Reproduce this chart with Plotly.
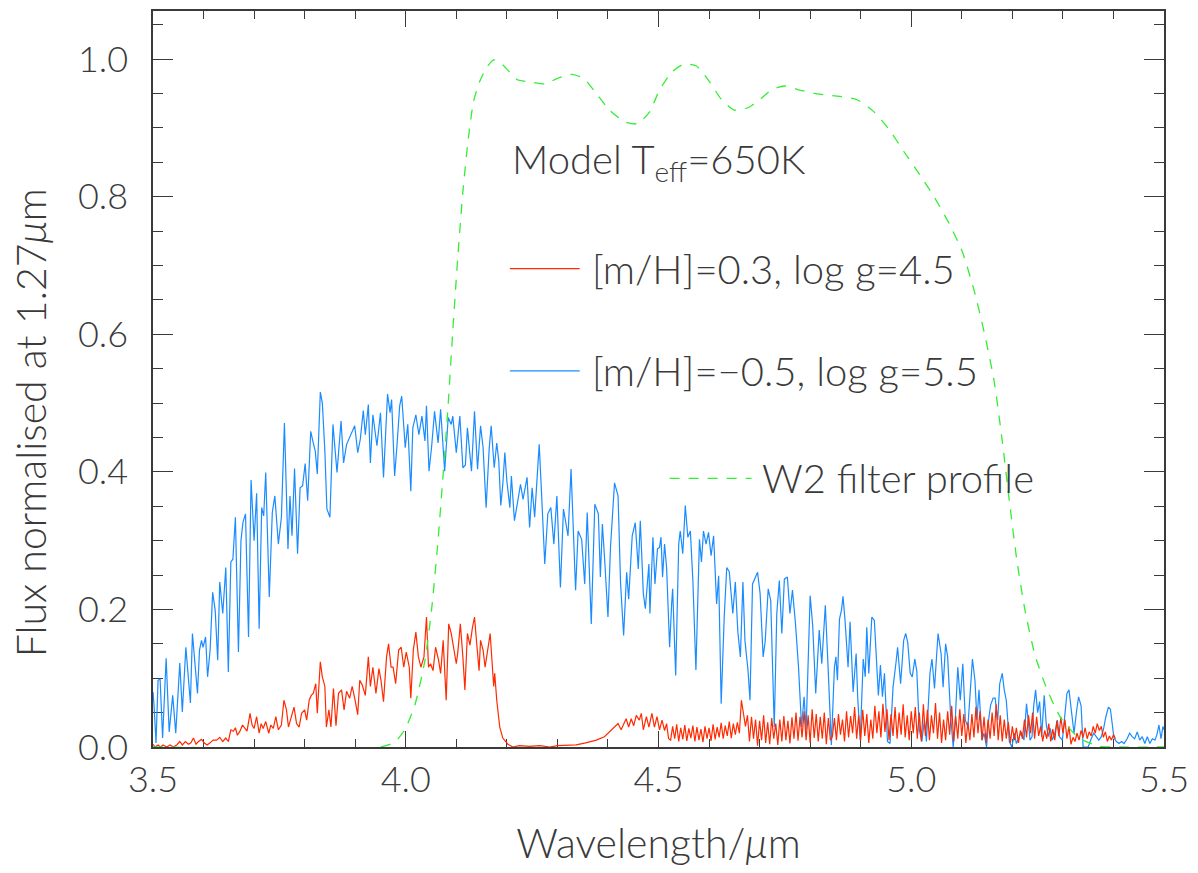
import numpy as np
import plotly.graph_objects as go

# ---- Model spectrum, [m/H]=-0.5, log g=5.5 (blue) ----
blue_wavelength = [
    3.500, 3.502, 3.506, 3.510, 3.514, 3.519, 3.526, 3.532, 3.539, 3.545,
    3.553, 3.558, 3.565, 3.570, 3.574, 3.578, 3.588, 3.592, 3.596, 3.599,
    3.604, 3.608, 3.613, 3.618, 3.623, 3.628, 3.632, 3.638, 3.644, 3.649,
    3.654, 3.658, 3.663, 3.669, 3.674, 3.678, 3.683, 3.689, 3.694, 3.700,
    3.705, 3.710, 3.715, 3.719, 3.723, 3.730, 3.736, 3.741, 3.748, 3.754,
    3.760, 3.767, 3.771, 3.775, 3.780, 3.786, 3.791, 3.796, 3.801, 3.806,
    3.812, 3.817, 3.821, 3.825, 3.831, 3.835, 3.840, 3.844, 3.850, 3.856,
    3.864, 3.872, 3.877, 3.883, 3.891, 3.899, 3.905, 3.910, 3.916, 3.920,
    3.926, 3.930, 3.935, 3.943, 3.950, 3.956, 3.964, 3.969, 3.972, 3.978,
    3.983, 3.988, 3.992, 3.999, 4.004, 4.010, 4.014, 4.020, 4.026, 4.032,
    4.038, 4.041, 4.046, 4.051, 4.057, 4.064, 4.069, 4.077, 4.084, 4.090,
    4.093, 4.100, 4.107, 4.113, 4.118, 4.122, 4.130, 4.136, 4.142, 4.148,
    4.153, 4.159, 4.165, 4.169, 4.175, 4.180, 4.184, 4.188, 4.192, 4.196,
    4.200, 4.206, 4.209, 4.215, 4.221, 4.227, 4.232, 4.240, 4.245, 4.250,
    4.255, 4.264, 4.269, 4.275, 4.281, 4.287, 4.293, 4.299, 4.306, 4.312,
    4.321, 4.327, 4.336, 4.341, 4.348, 4.354, 4.359, 4.367, 4.374, 4.381,
    4.385, 4.389, 4.394, 4.400, 4.405, 4.413, 4.420, 4.425, 4.431, 4.437,
    4.441, 4.448, 4.454, 4.460, 4.464, 4.470, 4.474, 4.481, 4.483, 4.489,
    4.493, 4.498, 4.502, 4.505, 4.508, 4.512, 4.516, 4.522, 4.526, 4.528,
    4.534, 4.540, 4.543, 4.548, 4.553, 4.558, 4.563, 4.568, 4.574, 4.581,
    4.585, 4.589, 4.594, 4.599, 4.604, 4.609, 4.615, 4.619, 4.624, 4.630,
    4.635, 4.640, 4.647, 4.652, 4.657, 4.662, 4.667, 4.671, 4.677, 4.681,
    4.686, 4.691, 4.696, 4.701, 4.707, 4.711, 4.717, 4.722, 4.729, 4.734,
    4.739, 4.744, 4.749, 4.755, 4.760, 4.765, 4.771, 4.777, 4.783, 4.788,
    4.792, 4.800, 4.805, 4.811, 4.818, 4.823, 4.830, 4.836, 4.842, 4.848,
    4.851, 4.854, 4.858, 4.862, 4.865, 4.869, 4.875, 4.879, 4.885, 4.891,
    4.894, 4.899, 4.905, 4.909, 4.912, 4.916, 4.922, 4.927, 4.935, 4.939,
    4.943, 4.947, 4.953, 4.958, 4.964, 4.970, 4.973, 4.979, 4.985, 4.989,
    4.993, 4.998, 5.002, 5.007, 5.011, 5.016, 5.021, 5.026, 5.030, 5.037,
    5.041, 5.046, 5.053, 5.059, 5.063, 5.068, 5.072, 5.078, 5.083, 5.087,
    5.092, 5.097, 5.102, 5.107, 5.112, 5.117, 5.121, 5.126, 5.130, 5.134,
    5.140, 5.144, 5.149, 5.153, 5.157, 5.162, 5.166, 5.171, 5.175, 5.180,
    5.184, 5.188, 5.194, 5.199, 5.204, 5.208, 5.213, 5.218, 5.223, 5.228,
    5.232, 5.235, 5.239, 5.242, 5.246, 5.250, 5.254, 5.258, 5.263, 5.267,
    5.271, 5.275, 5.279, 5.284, 5.289, 5.293, 5.299, 5.304, 5.308, 5.312,
    5.317, 5.322, 5.327, 5.331, 5.336, 5.340, 5.345, 5.350, 5.356, 5.361,
    5.366, 5.371, 5.376, 5.380, 5.385, 5.390, 5.394, 5.398, 5.401, 5.406,
    5.411, 5.416, 5.421, 5.427, 5.432, 5.437, 5.442, 5.447, 5.452, 5.457,
    5.462, 5.467, 5.472, 5.477, 5.482, 5.486, 5.490, 5.494, 5.498, 5.500,
]
blue_flux = [
    0.080, 0.061, 0.006, 0.097, 0.099, 0.013, 0.129, 0.022, 0.075, 0.020,
    0.122, 0.051, 0.145, 0.093, 0.064, 0.165, 0.078, 0.141, 0.155, 0.145,
    0.160, 0.102, 0.141, 0.225, 0.199, 0.126, 0.240, 0.194, 0.261, 0.109,
    0.269, 0.273, 0.334, 0.138, 0.300, 0.327, 0.339, 0.160, 0.388, 0.300,
    0.369, 0.172, 0.348, 0.336, 0.399, 0.218, 0.341, 0.365, 0.295, 0.334,
    0.471, 0.288, 0.365, 0.307, 0.405, 0.281, 0.377, 0.380, 0.412, 0.358,
    0.459, 0.442, 0.430, 0.397, 0.516, 0.500, 0.430, 0.346, 0.334, 0.469,
    0.399, 0.474, 0.413, 0.440, 0.454, 0.467, 0.428, 0.447, 0.489, 0.454,
    0.498, 0.413, 0.483, 0.438, 0.486, 0.392, 0.513, 0.486, 0.505, 0.394,
    0.442, 0.496, 0.510, 0.435, 0.469, 0.372, 0.464, 0.483, 0.454, 0.481,
    0.445, 0.496, 0.401, 0.435, 0.488, 0.442, 0.491, 0.401, 0.479, 0.469,
    0.481, 0.428, 0.481, 0.406, 0.410, 0.464, 0.401, 0.488, 0.404, 0.467,
    0.435, 0.348, 0.433, 0.467, 0.406, 0.442, 0.416, 0.351, 0.382, 0.428,
    0.387, 0.348, 0.394, 0.329, 0.355, 0.382, 0.360, 0.392, 0.319, 0.377,
    0.334, 0.440, 0.363, 0.266, 0.339, 0.348, 0.295, 0.365, 0.232, 0.346,
    0.307, 0.404, 0.228, 0.314, 0.302, 0.237, 0.341, 0.179, 0.353, 0.339,
    0.247, 0.324, 0.266, 0.189, 0.290, 0.384, 0.365, 0.237, 0.162, 0.254,
    0.215, 0.307, 0.326, 0.259, 0.329, 0.223, 0.201, 0.266, 0.194, 0.305,
    0.237, 0.288, 0.290, 0.305, 0.247, 0.295, 0.261, 0.145, 0.208, 0.230,
    0.104, 0.295, 0.314, 0.281, 0.351, 0.305, 0.314, 0.242, 0.112, 0.302,
    0.269, 0.314, 0.295, 0.312, 0.278, 0.307, 0.208, 0.249, 0.063, 0.189,
    0.261, 0.255, 0.194, 0.240, 0.167, 0.131, 0.240, 0.155, 0.112, 0.068,
    0.237, 0.247, 0.254, 0.223, 0.131, 0.153, 0.230, 0.213, 0.029, 0.194,
    0.242, 0.165, 0.244, 0.247, 0.194, 0.228, 0.179, 0.116, 0.029, 0.073,
    0.025, 0.220, 0.177, 0.078, 0.170, 0.121, 0.206, 0.107, 0.003, 0.116,
    0.131, 0.097, 0.186, 0.199, 0.219, 0.184, 0.116, 0.182, 0.080, 0.136,
    0.073, 0.010, 0.128, 0.102, 0.174, 0.107, 0.189, 0.184, 0.075, 0.119,
    0.073, 0.107, 0.008, 0.005, 0.087, 0.124, 0.145, 0.092, 0.155, 0.165,
    0.152, 0.107, 0.102, 0.128, 0.110, 0.025, 0.008, 0.039, 0.008, 0.107,
    0.128, 0.085, 0.165, 0.136, 0.087, 0.150, 0.131, 0.044, 0.000, 0.039,
    0.116, 0.068, 0.121, 0.039, 0.029, 0.083, 0.128, 0.097, 0.039, 0.083,
    0.010, 0.020, 0.000, 0.039, 0.061, 0.071, 0.071, 0.039, 0.092, 0.107,
    0.083, 0.068, 0.008, 0.000, 0.020, 0.005, 0.015, 0.022, 0.010, 0.063,
    0.034, 0.010, 0.015, 0.058, 0.083, 0.050, 0.066, 0.015, 0.075, 0.034,
    0.015, 0.027, 0.010, 0.020, 0.039, 0.015, 0.010, 0.054, 0.078, 0.083,
    0.054, 0.020, 0.052, 0.073, 0.060, 0.000, 0.000, 0.000, 0.012, 0.020,
    0.015, 0.010, 0.015, 0.025, 0.044, 0.058, 0.055, 0.030, 0.013, 0.008,
    0.005, 0.008, 0.005, 0.012, 0.020, 0.015, 0.012, 0.022, 0.010, 0.015,
    0.005, 0.015, 0.005, 0.012, 0.010, 0.018, 0.032, 0.012, 0.030, 0.025,
]

# ---- Model spectrum, [m/H]=0.3, log g=4.5 (red), short-wavelength part ----
red_wavelength = [
    3.500, 3.504, 3.510, 3.515, 3.520, 3.527, 3.534, 3.540, 3.547, 3.553,
    3.558, 3.564, 3.570, 3.575, 3.580, 3.585, 3.590, 3.596, 3.601, 3.607,
    3.613, 3.619, 3.626, 3.632, 3.638, 3.644, 3.649, 3.654, 3.659, 3.663,
    3.667, 3.672, 3.677, 3.682, 3.686, 3.692, 3.696, 3.700, 3.705, 3.710,
    3.714, 3.718, 3.723, 3.729, 3.733, 3.738, 3.743, 3.748, 3.754, 3.759,
    3.764, 3.768, 3.773, 3.779, 3.784, 3.789, 3.794, 3.800, 3.804, 3.809,
    3.813, 3.817, 3.822, 3.825, 3.831, 3.835, 3.840, 3.843, 3.848, 3.852,
    3.857, 3.862, 3.867, 3.873, 3.878, 3.883, 3.889, 3.894, 3.899, 3.905,
    3.909, 3.914, 3.920, 3.926, 3.930, 3.935, 3.941, 3.947, 3.951, 3.956,
    3.962, 3.966, 3.971, 3.975, 3.980, 3.986, 3.991, 3.996, 4.001, 4.007,
    4.010, 4.015, 4.020, 4.025, 4.030, 4.036, 4.041, 4.045, 4.049, 4.054,
    4.059, 4.065, 4.069, 4.074, 4.080, 4.085, 4.090, 4.095, 4.100, 4.103,
    4.108, 4.113, 4.117, 4.122, 4.127, 4.132, 4.136, 4.141, 4.145, 4.148,
    4.153, 4.157, 4.162, 4.167, 4.171, 4.174, 4.176, 4.180, 4.186, 4.192,
    4.202, 4.212, 4.225, 4.245, 4.265, 4.285, 4.300, 4.317, 4.337, 4.356,
    4.377, 4.393, 4.410, 4.420, 4.426, 4.436, 4.441, 4.446, 4.451, 4.456,
    4.462, 4.466, 4.470, 4.476, 4.481, 4.487, 4.492, 4.497, 4.502, 4.507,
    4.512, 4.516, 4.520,
]
red_flux = [
    0.004, 0.000, 0.003, 0.000, 0.003, 0.000, 0.003, 0.000, 0.003, 0.008,
    0.003, 0.008, 0.004, 0.006, 0.013, 0.004, 0.008, 0.011, 0.006, 0.003,
    0.006, 0.010, 0.010, 0.014, 0.008, 0.013, 0.008, 0.025, 0.023, 0.028,
    0.017, 0.023, 0.032, 0.027, 0.023, 0.049, 0.032, 0.027, 0.044, 0.020,
    0.034, 0.027, 0.037, 0.020, 0.032, 0.027, 0.044, 0.025, 0.032, 0.068,
    0.054, 0.029, 0.041, 0.058, 0.034, 0.029, 0.049, 0.054, 0.039, 0.068,
    0.075, 0.078, 0.092, 0.049, 0.124, 0.102, 0.088, 0.029, 0.054, 0.029,
    0.085, 0.031, 0.078, 0.083, 0.054, 0.081, 0.071, 0.088, 0.071, 0.047,
    0.097, 0.090, 0.075, 0.131, 0.088, 0.116, 0.078, 0.114, 0.097, 0.066,
    0.131, 0.150, 0.116, 0.116, 0.092, 0.141, 0.145, 0.116, 0.138, 0.116,
    0.071, 0.141, 0.167, 0.131, 0.116, 0.131, 0.189, 0.116, 0.121, 0.111,
    0.145, 0.126, 0.107, 0.155, 0.068, 0.179, 0.165, 0.145, 0.121, 0.138,
    0.179, 0.131, 0.083, 0.165, 0.148, 0.174, 0.189, 0.145, 0.111, 0.155,
    0.141, 0.116, 0.138, 0.165, 0.121, 0.088, 0.107, 0.068, 0.029, 0.013,
    0.004, 0.000, 0.002, 0.001, 0.002, 0.000, 0.002, 0.002, 0.003, 0.006,
    0.010, 0.015, 0.027, 0.034, 0.025, 0.041, 0.029, 0.041, 0.031, 0.046,
    0.039, 0.049, 0.025, 0.044, 0.029, 0.049, 0.029, 0.044, 0.025, 0.039,
    0.024, 0.034, 0.012,
]

# Red spectrum, long-wavelength part: regularly sampled from 4.524 um
red_tail_start = 4.524
red_tail_step = 0.004
red_tail_flux = [
    0.010, 0.030, 0.012, 0.033, 0.008, 0.028, 0.011, 0.032, 0.009, 0.027,
    0.013, 0.031, 0.008, 0.029, 0.010, 0.026, 0.007, 0.030, 0.012, 0.028,
    0.009, 0.033, 0.011, 0.029, 0.014, 0.035, 0.012, 0.031, 0.016, 0.037,
    0.013, 0.034, 0.018, 0.036, 0.020, 0.068, 0.050, 0.030, 0.046, 0.008,
    0.044, 0.012, 0.040, 0.002, 0.038, 0.010, 0.046, 0.006, 0.036, 0.004,
    0.042, 0.012, 0.034, 0.003, 0.040, 0.008, 0.045, 0.010, 0.038, 0.005,
    0.043, 0.012, 0.050, 0.009, 0.044, 0.014, 0.052, 0.010, 0.046, 0.006,
    0.055, 0.013, 0.048, 0.008, 0.044, 0.012, 0.050, 0.004, 0.042, 0.010,
    0.015, 0.042, 0.010, 0.048, 0.018, 0.040, 0.008, 0.052, 0.014, 0.045,
    0.020, 0.058, 0.012, 0.046, 0.010, 0.054, 0.016, 0.048, 0.006, 0.040,
    0.012, 0.060, 0.020, 0.052, 0.014, 0.063, 0.022, 0.055, 0.010, 0.048,
    0.016, 0.058, 0.012, 0.050, 0.018, 0.062, 0.014, 0.046, 0.010, 0.052,
    0.020, 0.058, 0.012, 0.050, 0.008, 0.062, 0.016, 0.054, 0.010, 0.046,
    0.020, 0.064, 0.012, 0.050, 0.006, 0.040, 0.010, 0.052, 0.018, 0.060,
    0.008, 0.045, 0.012, 0.055, 0.016, 0.048, 0.006, 0.036, 0.010, 0.048,
    0.014, 0.058, 0.020, 0.052, 0.010, 0.044, 0.006, 0.040, 0.012, 0.050,
    0.016, 0.062, 0.010, 0.046, 0.008, 0.040, 0.012, 0.036, 0.006, 0.030,
    0.010, 0.028, 0.006, 0.024, 0.012, 0.040, 0.014, 0.046, 0.020, 0.050,
    0.012, 0.044, 0.016, 0.030, 0.008, 0.024, 0.012, 0.034, 0.008, 0.026,
    0.010, 0.038, 0.016, 0.044, 0.020, 0.040, 0.012, 0.030, 0.004, 0.014,
    0.008, 0.020, 0.010, 0.024, 0.014, 0.028, 0.012, 0.022, 0.016, 0.030,
    0.020, 0.034, 0.024, 0.030, 0.014, 0.022, 0.008, 0.016, 0.010, 0.018,
    0.012,
]

# ---- WISE W2 filter transmission profile (green, dashed) ----
w2_wavelength = [
    3.500, 3.949, 3.978, 3.998, 4.018, 4.038, 4.051, 4.063, 4.073, 4.083,
    4.093, 4.103, 4.113, 4.123, 4.134, 4.146, 4.160, 4.174, 4.186, 4.202,
    4.221, 4.245, 4.275, 4.300, 4.328, 4.352, 4.375, 4.403, 4.433, 4.458,
    4.482, 4.502, 4.526, 4.551, 4.575, 4.601, 4.624, 4.650, 4.676, 4.700,
    4.723, 4.749, 4.779, 4.818, 4.858, 4.893, 4.927, 4.957, 4.986, 5.016,
    5.045, 5.075, 5.101, 5.125, 5.144, 5.164, 5.180, 5.194, 5.209, 5.225,
    5.245, 5.269, 5.296, 5.332, 5.372, 5.411, 5.500,
]
w2_response = [
    0.000, 0.000, 0.007, 0.025, 0.061, 0.126, 0.199, 0.293, 0.387, 0.488,
    0.604, 0.713, 0.807, 0.880, 0.938, 0.967, 0.988, 0.999, 0.996, 0.984,
    0.970, 0.967, 0.964, 0.972, 0.978, 0.972, 0.952, 0.926, 0.909, 0.906,
    0.923, 0.955, 0.981, 0.993, 0.990, 0.967, 0.942, 0.926, 0.929, 0.941,
    0.955, 0.961, 0.955, 0.949, 0.946, 0.941, 0.923, 0.897, 0.865, 0.833,
    0.800, 0.761, 0.720, 0.662, 0.604, 0.532, 0.445, 0.358, 0.271, 0.199,
    0.133, 0.083, 0.042, 0.013, 0.001, 0.000, 0.000,
]

x_tick_values = [3.5, 4.0, 4.5, 5.0, 5.5]
y_tick_values = [0.0, 0.2, 0.4, 0.6, 0.8, 1.0]

BLUE = "#1a8cff"
RED = "#ff2a00"
GREEN = "#33ee33"
INK = "#3a3a3a"
FONT = "Lato"

red_tail_wavelength = red_tail_start + red_tail_step * np.arange(len(red_tail_flux))
red_all_wavelength = np.concatenate([red_wavelength, red_tail_wavelength])
red_all_flux = np.concatenate([red_flux, red_tail_flux])

fig = go.Figure()
fig.add_trace(go.Scatter(x=blue_wavelength, y=blue_flux, mode="lines",
                         line=dict(color=BLUE, width=1.2), showlegend=False))
fig.add_trace(go.Scatter(x=red_all_wavelength, y=red_all_flux, mode="lines",
                         line=dict(color=RED, width=1.2), showlegend=False))
fig.add_trace(go.Scatter(x=w2_wavelength, y=w2_response, mode="lines",
                         line=dict(color=GREEN, width=1.3, dash="10px,9px", shape="spline",
                                   smoothing=0.6),
                         showlegend=False))

tick_font = dict(family=FONT, size=36, color=INK, weight=300)
title_font = dict(family=FONT, size=41, color=INK, weight=300)
label_font = dict(family=FONT, size=40, color=INK, weight=300)

axis_common = dict(
    showline=True, linecolor=INK, linewidth=1.5, mirror="allticks",
    ticks="inside", tickcolor=INK, tickwidth=1.2,
    showgrid=False, zeroline=False, layer="below traces",
    tickfont=tick_font, tickformat=".1f",
)

fig.update_xaxes(
    range=[3.5, 5.5], tickvals=x_tick_values, ticklen=16,
    minor=dict(dtick=0.1, ticks="inside", ticklen=8, tickcolor=INK, tickwidth=1.0),
    title=dict(text="Wavelength/<i>μ</i>m", font=title_font, standoff=30),
    ticklabelstandoff=0,
    **axis_common,
)
fig.update_yaxes(
    range=[0, 1.07], tickvals=y_tick_values, ticklen=20,
    minor=dict(dtick=0.05, ticks="inside", ticklen=10, tickcolor=INK, tickwidth=1.0),
    ticklabelstandoff=16,
    **axis_common,
)

# Vertical axis title, placed as a rotated annotation
fig.add_annotation(xref="paper", yref="paper", x=-0.1215, y=0.44,
                   xanchor="center", yanchor="middle", textangle=-90, showarrow=False,
                   text="Flux normalised at 1.27<i>μ</i>m", font=title_font)

annotations = [
    dict(x=0.353, y=0.795, text="Model T<sub>eff</sub>=650K"),
    dict(x=0.432, y=0.650, text="[m/H]=0.3, log g=4.5"),
    dict(x=0.432, y=0.511, text="[m/H]=−0.5, log g=5.5"),
    dict(x=0.600, y=0.366, text="W2 filter profile"),
]
for a in annotations:
    fig.add_annotation(xref="paper", yref="paper", xanchor="left", yanchor="middle",
                       showarrow=False, font=label_font, **a)

fig.add_shape(type="line", xref="paper", yref="paper", x0=0.353, x1=0.422, y0=0.650, y1=0.650,
              line=dict(color=RED, width=1.2))
fig.add_shape(type="line", xref="paper", yref="paper", x0=0.353, x1=0.422, y0=0.511, y1=0.511,
              line=dict(color=BLUE, width=1.2))
fig.add_shape(type="line", xref="paper", yref="paper", x0=0.511, x1=0.592, y0=0.365, y1=0.365,
              line=dict(color=GREEN, width=1.3, dash="10px,9px"))

fig.update_layout(
    width=1198, height=873,
    margin=dict(l=153, r=33, t=9, b=126),
    paper_bgcolor="white", plot_bgcolor="white",
    showlegend=False,
)

fig.write_html("out.html")
